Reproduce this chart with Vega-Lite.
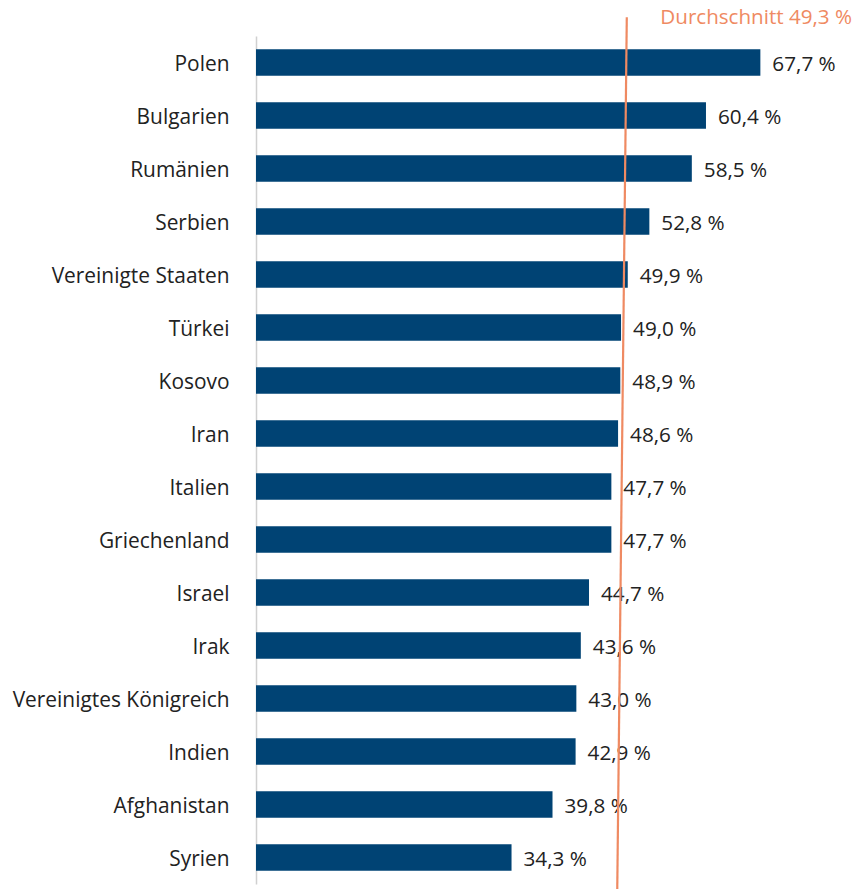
{
  "$schema": "https://vega.github.io/schema/vega-lite/v6.json",
  "autosize": {"type": "none"},
  "padding": {"left": 256, "top": 36, "right": 1, "bottom": 5},
  "width": 596,
  "height": 848,
  "background": "white",
  "config": {"view": {"stroke": null}, "font": "Open Sans"},
  "datasets": {
    "bars": [
      {"land": "Polen", "wert": 67.7},
      {"land": "Bulgarien", "wert": 60.4},
      {"land": "Rumänien", "wert": 58.5},
      {"land": "Serbien", "wert": 52.8},
      {"land": "Vereinigte Staaten", "wert": 49.9},
      {"land": "Türkei", "wert": 49.0},
      {"land": "Kosovo", "wert": 48.9},
      {"land": "Iran", "wert": 48.6},
      {"land": "Italien", "wert": 47.7},
      {"land": "Griechenland", "wert": 47.7},
      {"land": "Israel", "wert": 44.7},
      {"land": "Irak", "wert": 43.6},
      {"land": "Vereinigtes Königreich", "wert": 43.0},
      {"land": "Indien", "wert": 42.9},
      {"land": "Afghanistan", "wert": 39.8},
      {"land": "Syrien", "wert": 34.3}
    ],
    "avg": [
      {"x": 49.77, "x2": 48.49, "y": 1.022, "y2": -0.006}
    ],
    "avglabel": [
      {"x": 80, "y": 1.0145, "text": "Durchschnitt 49,3 %"}
    ]
  },
  "layer": [
    {
      "data": {"name": "bars"},
      "mark": {"type": "bar", "color": "#004374"},
      "encoding": {
        "y": {"field": "land", "type": "nominal", "sort": null,
              "scale": {"paddingInner": 0.5, "paddingOuter": 0.25},
              "axis": {"title": null, "ticks": false, "labelPadding": 27, "labelFontSize": 20.9, "labelLimit": 400,
                       "labelOffset": 2,
                       "labelColor": "#222222", "labelFont": "Open Sans",
                       "domainColor": "#d0d0d0", "domainWidth": 1.5}},
        "x": {"field": "wert", "type": "quantitative", "scale": {"domain": [0, 80]}, "axis": null}
      }
    },
    {
      "data": {"name": "bars"},
      "mark": {"type": "text", "align": "left", "baseline": "middle", "dx": 12, "dy": 2, "fontSize": 20.7, "color": "#222222",
               "text": {"expr": "replace(format(datum.wert, '.1f'), '.', ',') + ' %'"}},
      "encoding": {
        "y": {"field": "land", "type": "nominal", "sort": null,
              "scale": {"paddingInner": 0.5, "paddingOuter": 0.25}, "axis": null},
        "x": {"field": "wert", "type": "quantitative"}
      }
    },
    {
      "data": {"name": "avg"},
      "mark": {"type": "rule", "color": "#ef8a62", "strokeWidth": 2.2},
      "encoding": {
        "x": {"field": "x", "type": "quantitative"},
        "x2": {"field": "x2"},
        "y": {"field": "y", "type": "quantitative", "scale": {"domain": [0, 1]}, "axis": null},
        "y2": {"field": "y2"}
      }
    },
    {
      "data": {"name": "avglabel"},
      "mark": {"type": "text", "align": "right", "baseline": "alphabetic", "fontSize": 20.6, "color": "#ef8a62"},
      "encoding": {
        "x": {"field": "x", "type": "quantitative"},
        "y": {"field": "y", "type": "quantitative", "scale": {"domain": [0, 1]}, "axis": null},
        "text": {"field": "text"}
      }
    }
  ],
  "resolve": {"scale": {"y": "independent"}}
}
